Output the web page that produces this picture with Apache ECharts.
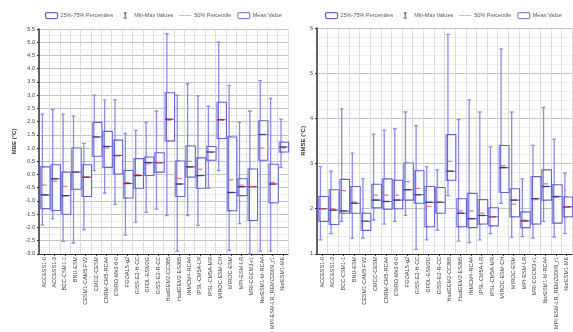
<!DOCTYPE html>
<html><head><meta charset="utf-8">
<script src="https://cdn.jsdelivr.net/npm/echarts@6/dist/echarts.min.js"></script>
<style>html,body{margin:0;padding:0;background:#fff}#c{width:573px;height:332px}</style>
</head><body><div id="c"></div>
<script>
const categories = ["ACCESS1-0","ACCESS1-3","BCC-CSM1-1","BNU-ESM","CESM1-CAM5-FV2","CMCC-CESM","CNRM-CM5-RCA4","CSIRO-Mk3-6-0","FGOALS-g2","GISS-E2-H-CC","GFDL-ESM2G","GISS-E2-R-CC","HadGEM2-CC365","HadGEM2-ES365","INMCM4-RCA4","IPSL-CM5A-LR","IPSL-CM5A-MR","MIROC-ESM-CH","MIROC-ESM","MPI-ESM-LR","MRI-CGCM3-r1","NorESM1-M-RCA4","MPI-ESM-LR_REMO2009_r1","NorESM1-ME"];

// MBE (°C)
const mbeMin    = [-1.91,-1.68,-2.53,-2.59,-2.09,0.15,-0.70,-1.13,-2.29,-1.80,-1.43,-1.31,-1.55,-2.90,-1.55,-1.92,-0.52,0.15,-2.87,-1.86,-3.00,-2.90,-2.90,0.27];
const mbeQ1     = [-1.29,-1.36,-1.50,-0.56,-0.83,0.69,0.27,0.02,-0.89,-0.52,-0.04,0.09,1.27,-0.83,-0.10,-0.52,0.54,1.36,-1.37,-0.80,-1.74,0.54,-1.07,0.85];
const mbeMedian = [-0.77,-0.16,-0.80,0.09,-0.10,1.42,1.06,0.72,-0.34,-0.04,0.45,0.45,2.09,-0.36,0.29,-0.04,0.85,2.07,-0.68,-0.46,-0.46,1.51,-0.36,1.04];
const mbeQ3     = [0.29,0.37,0.09,1.00,0.37,1.97,1.63,1.30,0.15,0.60,0.66,0.82,3.09,0.51,1.08,0.63,1.06,2.73,1.42,-0.16,0.21,2.03,0.39,1.22];
const mbeMax    = [2.28,2.46,2.28,2.21,1.18,3.00,2.82,2.82,1.55,1.67,1.97,2.40,5.32,3.00,3.43,2.97,2.58,5.01,3.37,1.97,2.40,3.55,2.88,2.09];
const mbeMean   = [-0.40,-0.25,-0.45,0.10,-0.08,1.40,1.00,0.70,-0.30,0.00,0.40,0.45,2.05,-0.15,0.50,0.20,0.85,2.05,-0.20,-0.40,-0.45,1.00,-0.30,1.00];

// RMSE (°C)
const rmseMin    = [1.31,1.45,1.72,1.35,1.35,1.75,1.66,1.72,1.85,1.10,1.31,1.52,2.29,1.28,1.25,1.31,1.45,2.12,1.37,1.38,1.35,1.72,1.37,1.45];
const rmseQ1     = [1.72,1.65,1.90,1.90,1.52,2.02,1.99,2.00,2.19,2.12,1.60,1.90,2.63,1.60,1.58,1.66,1.62,2.36,1.82,1.58,1.66,2.19,1.68,1.82];
const rmseMedian = [2.00,1.97,1.95,2.12,1.72,2.19,2.16,2.19,2.42,2.31,2.14,2.14,2.83,1.90,1.78,1.85,1.82,2.91,2.19,1.73,2.22,2.49,2.27,2.04];
const rmseQ3     = [2.27,2.42,2.65,2.49,1.90,2.54,2.66,2.63,3.01,2.84,2.49,2.47,3.64,2.22,2.34,2.20,2.02,3.40,2.44,1.93,2.71,2.86,2.53,2.26];
const rmseMax    = [2.93,2.83,4.21,3.23,2.66,3.65,3.74,3.77,4.14,3.84,2.93,2.86,5.86,3.97,4.41,4.14,3.37,5.54,4.14,2.66,3.40,4.24,3.54,2.79];
const rmseMean   = [2.00,2.00,2.40,2.15,1.72,2.30,2.30,2.30,2.60,2.45,2.05,2.15,3.05,1.95,1.95,1.90,1.82,2.95,2.10,1.75,2.20,2.55,2.25,2.05];

const legendNames = ["25%-75% Percentiles","Min-Max Values","50% Percentile","Mean Value"];

const BOX = '#6464cc', WHISK = '#8c8ce6', MED = '#2e2e7a', MEAN = '#e05a5a';
const ibar = 'path://M0,0h0.01v0.01h-0.01z M12,6h0.01v0.01h-0.01z M4.5,0H7.5V0.8H6.4V5.2H7.5V6H4.5V5.2H5.6V0.8H4.5Z';
const dash = 'path://M0,0h0.01v0.01h-0.01z M12,6h0.01v0.01h-0.01z M0,2.6H12V3.4H0Z';

function legend(idx, left) {
  return {
    left: left, top: 7, itemWidth: 12, itemHeight: 6, itemGap: 6,
    textStyle: {fontSize: 5.5, color: '#555', padding: [0,0,0,-2]},
    selectedMode: false,
    data: [
      {name: legendNames[0], icon: 'roundRect', itemStyle: {color: '#fff', borderColor: BOX, borderWidth: 1.2}},
      {name: legendNames[1], icon: ibar, itemStyle: {color: '#333', borderWidth: 0}},
      {name: legendNames[2], icon: dash, itemStyle: {color: '#999', borderWidth: 0}},
      {name: legendNames[3], icon: 'roundRect', itemStyle: {color: '#fff', borderColor: BOX, borderWidth: 1.2}}
    ]
  };
}

function xAxis(gi) {
  return {
    type: 'category', gridIndex: gi, data: categories, boundaryGap: true,
    axisLine: {onZero: false, lineStyle: {color: '#333', width: 1.2}},
    axisTick: {show: true, alignWithLabel: true, length: 2, lineStyle: {color: '#333'}},
    axisLabel: {interval: 0, rotate: 90, fontSize: 5.5, color: '#444', margin: 3},
    splitLine: {show: true, interval: 0, lineStyle: {color: '#d4d4d4', width: 0.8}}
  };
}

function yAxis(gi, min, max, interval, minorN, name, fmt) {
  return {
    type: 'value', gridIndex: gi, min: min, max: max, interval: interval,
    name: name, nameLocation: 'middle', nameGap: gi === 0 ? 22 : 11,
    nameTextStyle: {fontSize: 6, color: '#333', fontWeight: 'bold'},
    axisLine: {show: true, onZero: false, lineStyle: {color: '#333', width: 1.5}},
    axisTick: {show: true, length: 2, lineStyle: {color: '#333'}},
    axisLabel: {fontSize: 5.5, color: '#444', margin: 4, formatter: fmt},
    splitLine: {show: true, lineStyle: {color: '#b4b4b4', width: 0.8}},
    minorTick: {show: false, splitNumber: minorN},
    minorSplitLine: {show: true, lineStyle: {color: '#e6e6e6', width: 0.6}}
  };
}

function seriesFor(gi, mn, q1, md, q3, mx, mean) {
  const whisk = categories.map((c, i) => [mn[i], q1[i], md[i], q3[i], mx[i]]);
  const box = categories.map((c, i) => [q1[i], q1[i], md[i], q3[i], q3[i]]);
  return [
    {type: 'boxplot', name: legendNames[1], xAxisIndex: gi, yAxisIndex: gi, data: whisk, boxWidth: ['35%','35%'],
     itemStyle: {color: 'rgba(255,255,255,0)', borderColor: WHISK, borderWidth: 1.3}, emphasis: {disabled: true}, z: 2},
    {type: 'boxplot', name: legendNames[0], xAxisIndex: gi, yAxisIndex: gi, data: box, boxWidth: ['78%','78%'],
     itemStyle: {color: 'rgba(255,255,255,0.9)', borderColor: BOX, borderWidth: 1.1}, emphasis: {disabled: true}, z: 3},
    {type: 'scatter', name: legendNames[2], xAxisIndex: gi, yAxisIndex: gi, data: md, symbol: 'rect', symbolSize: [7, 1.4],
     itemStyle: {color: MED}, z: 5},
    {type: 'scatter', name: legendNames[3], xAxisIndex: gi, yAxisIndex: gi, data: mean, symbol: 'rect', symbolSize: [5, 1.2],
     itemStyle: {color: MEAN}, z: 6}
  ];
}

const chart = echarts.init(document.getElementById('c'), null, {renderer: 'canvas'});
chart.setOption({
  animation: false,
  backgroundColor: '#fff',
  legend: [legend(0, 40), legend(1, 320)],
  grid: [
    {left: 39, right: 285, top: 29, bottom: 68},
    {left: 317, right: 1, top: 28, bottom: 56}
  ],
  xAxis: [xAxis(0), xAxis(1)],
  yAxis: [
    yAxis(0, -3, 5.5, 0.5, 2, 'MBE (°C)', v => v.toFixed(1)),
    yAxis(1, 1, 6, 1, 5, 'RMSE (°C)', v => String(v))
  ],
  series: [].concat(
    seriesFor(0, mbeMin, mbeQ1, mbeMedian, mbeQ3, mbeMax, mbeMean),
    seriesFor(1, rmseMin, rmseQ1, rmseMedian, rmseQ3, rmseMax, rmseMean)
  )
});
</script></body></html>
